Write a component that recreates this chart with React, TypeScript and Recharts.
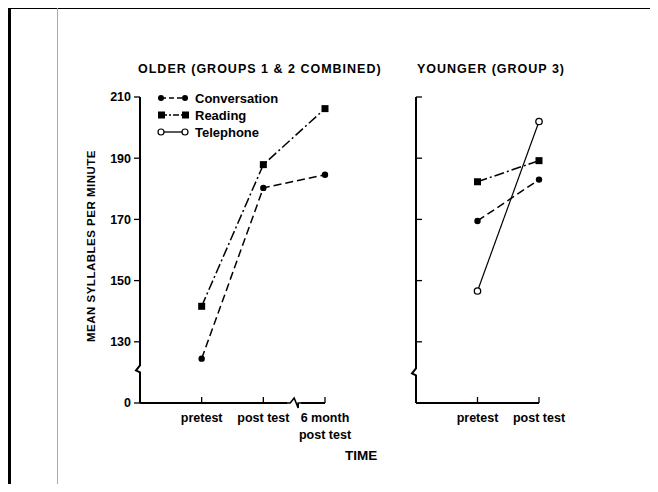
import { LineChart, Line, XAxis, YAxis, ReferenceDot } from "recharts"

// time points (numeric positions on the x axis) and their labels
const olderTimes = [1, 2, 3]
const olderLabels = ["pretest", "post test", "6 month\npost test"]
const youngerTimes = [1, 2]
const youngerLabels = ["pretest", "post test"]

// mean syllables per minute
const olderConversation = [124.5, 180.3, 184.6]
const olderReading = [141.6, 187.9, 206.2]
const youngerConversation = [169.5, 183.0]
const youngerReading = [182.3, 189.2]
const youngerTelephone = [146.6, 202.0]

// the bottom of the broken axis stands for 0
const yTicks = [110, 130, 150, 170, 190, 210]
const yTickLabels = ["0", "130", "150", "170", "190", "210"]

const FONT = "'Liberation Sans', Arial, sans-serif"
const W = 658
const H = 492

const olderData = olderTimes.map((t, i) => ({
  t,
  conversation: olderConversation[i],
  reading: olderReading[i],
}))
const youngerData = youngerTimes.map((t, i) => ({
  t,
  conversation: youngerConversation[i],
  reading: youngerReading[i],
  telephone: youngerTelephone[i],
}))

const CONV_DASH = "8 4"
const READ_DASH = "10 3 2 3"

function Dot(props: any) {
  const { cx, cy } = props
  if (cx == null || cy == null) return null
  return <circle cx={cx} cy={cy} r={3.2} fill="#000" />
}
function Square(props: any) {
  const { cx, cy } = props
  if (cx == null || cy == null) return null
  return <rect x={cx - 3.5} y={cy - 3.5} width={7} height={7} fill="#000" />
}
function Hollow(props: any) {
  const { cx, cy } = props
  if (cx == null || cy == null) return null
  return <circle cx={cx} cy={cy} r={3.2} fill="#fff" stroke="#000" strokeWidth={1.3} />
}

function makeXTick(labels: string[]) {
  return function XTick(props: any) {
    const { x, y, payload } = props
    const lines = labels[payload.value - 1].split("\n")
    return (
      <g>
        <line x1={x} y1={y} x2={x} y2={y - 6} stroke="#000" strokeWidth={1.3} />
        {lines.map((l, i) => (
          <text
            key={i}
            x={x}
            y={y + 19 + i * 17}
            textAnchor="middle"
            fontFamily={FONT}
            fontWeight="bold"
            fontSize={12.5}
            fill="#000"
          >
            {l}
          </text>
        ))}
      </g>
    )
  }
}

// zigzag break on a vertical axis
function YBreak(props: any) {
  const { cx, cy } = props
  if (cx == null || cy == null) return <g />
  return (
    <g>
      <rect x={cx - 3} y={cy - 7} width={6} height={14} fill="#fff" />
      <path
        d={`M${cx},${cy - 8} L${cx},${cy - 4} L${cx - 4},${cy + 1} L${cx},${cy + 3} L${cx},${cy + 8}`}
        fill="none"
        stroke="#000"
        strokeWidth={2}
      />
    </g>
  )
}

// zigzag break on a horizontal axis
function XBreak(props: any) {
  const { cx, cy } = props
  if (cx == null || cy == null) return <g />
  return (
    <g>
      <rect x={cx - 7} y={cy - 3} width={14} height={6} fill="#fff" />
      <path
        d={`M${cx - 8},${cy} L${cx - 4},${cy} L${cx},${cy - 5} L${cx + 4},${cy + 5} L${cx + 4},${cy} L${cx + 8},${cy}`}
        fill="none"
        stroke="#000"
        strokeWidth={1.6}
      />
    </g>
  )
}

function LegendRow({ y, kind, label }: { y: number; kind: string; label: string }) {
  const dash = kind === "conv" ? "5 3" : kind === "read" ? "6 2 2 2" : undefined
  return (
    <g>
      <line x1={161} y1={y} x2={185} y2={y} stroke="#000" strokeWidth={1.3} strokeDasharray={dash} />
      {kind === "conv" && (
        <>
          <circle cx={161} cy={y} r={3} fill="#000" />
          <circle cx={185} cy={y} r={3} fill="#000" />
        </>
      )}
      {kind === "read" && (
        <>
          <rect x={158} y={y - 3.5} width={7} height={7} fill="#000" />
          <rect x={182} y={y - 3.5} width={7} height={7} fill="#000" />
        </>
      )}
      {kind === "tel" && (
        <>
          <circle cx={161} cy={y} r={3} fill="#fff" stroke="#000" strokeWidth={1.2} />
          <circle cx={185} cy={y} r={3} fill="#fff" stroke="#000" strokeWidth={1.2} />
        </>
      )}
      <text x={195} y={y + 4.5} fontFamily={FONT} fontWeight="bold" fontSize={13} fill="#000">
        {label}
      </text>
    </g>
  )
}

const yTickFmt = (v: number) => yTickLabels[yTicks.indexOf(v)] ?? ""

export default function App() {
  const abs: React.CSSProperties = { position: "absolute", left: 0, top: 0 }
  const titleStyle: React.CSSProperties = {
    position: "absolute",
    top: 62,
    fontFamily: FONT,
    fontWeight: "bold",
    fontSize: 12.5,
    letterSpacing: 1,
    whiteSpace: "nowrap",
  }
  return (
    <div style={{ position: "relative", width: W, height: H, margin: -8, background: "#fff", overflow: "hidden" }}>
      {/* page frame */}
      <div style={{ position: "absolute", left: 8, top: 6, width: 3, height: H, background: "#000" }} />
      <div style={{ position: "absolute", left: 8, top: 6, width: W, height: 3, background: "#000" }} />
      <div style={{ position: "absolute", left: 57, top: 0, width: 1, height: H, background: "#aaa" }} />

      <div style={{ ...abs }}>
        <LineChart width={W} height={H} data={olderData} margin={{ top: 97, right: 333, left: 100, bottom: 59 }}>
          <XAxis
            type="number"
            dataKey="t"
            domain={[0, 3]}
            ticks={olderTimes}
            height={30}
            tickSize={0}
            tickMargin={0}
            tickLine={false}
            axisLine={{ stroke: "#000", strokeWidth: 2 }}
            tick={makeXTick(olderLabels)}
            interval={0}
          />
          <YAxis
            type="number"
            domain={[110, 210]}
            ticks={yTicks}
            width={40}
            tickSize={6}
            tickMargin={3}
            tickFormatter={yTickFmt}
            axisLine={{ stroke: "#000", strokeWidth: 2 }}
            tickLine={{ stroke: "#000", strokeWidth: 1.3 }}
            tick={{ fill: "#000", fontFamily: FONT, fontWeight: "bold", fontSize: 12.5 }}
            interval={0}
          />
          <Line
            dataKey="conversation"
            stroke="#000"
            strokeWidth={1.5}
            strokeDasharray={CONV_DASH}
            dot={<Dot />}
            activeDot={false}
            isAnimationActive={false}
          />
          <Line
            dataKey="reading"
            stroke="#000"
            strokeWidth={1.5}
            strokeDasharray={READ_DASH}
            dot={<Square />}
            activeDot={false}
            isAnimationActive={false}
          />
          <ReferenceDot x={0} y={121} ifOverflow="visible" shape={<YBreak />} />
          <ReferenceDot x={2.5} y={110} ifOverflow="visible" shape={<XBreak />} />
          <g>
            <LegendRow y={98} kind="conv" label="Conversation" />
            <LegendRow y={115} kind="read" label="Reading" />
            <LegendRow y={132} kind="tel" label="Telephone" />
          </g>
        </LineChart>
      </div>

      <div style={{ ...abs }}>
        <LineChart width={W} height={H} data={youngerData} margin={{ top: 97, right: 119, left: 416, bottom: 59 }}>
          <XAxis
            type="number"
            dataKey="t"
            domain={[0, 2]}
            ticks={youngerTimes}
            height={30}
            tickSize={0}
            tickMargin={0}
            tickLine={false}
            axisLine={{ stroke: "#000", strokeWidth: 2 }}
            tick={makeXTick(youngerLabels)}
            interval={0}
          />
          <YAxis
            type="number"
            domain={[110, 210]}
            ticks={yTicks.slice(1)}
            width={40}
            mirror
            tickSize={6}
            tickFormatter={() => ""}
            axisLine={{ stroke: "#000", strokeWidth: 2 }}
            tickLine={{ stroke: "#000", strokeWidth: 1.3 }}
            interval={0}
          />
          <Line
            dataKey="conversation"
            stroke="#000"
            strokeWidth={1.5}
            strokeDasharray={CONV_DASH}
            dot={<Dot />}
            activeDot={false}
            isAnimationActive={false}
          />
          <Line
            dataKey="reading"
            stroke="#000"
            strokeWidth={1.5}
            strokeDasharray={READ_DASH}
            dot={<Square />}
            activeDot={false}
            isAnimationActive={false}
          />
          <Line
            dataKey="telephone"
            stroke="#000"
            strokeWidth={1.2}
            dot={<Hollow />}
            activeDot={false}
            isAnimationActive={false}
          />
          <ReferenceDot x={0} y={120} ifOverflow="visible" shape={<YBreak />} />
        </LineChart>
      </div>

      {/* titles and axis names */}
      <div style={{ ...titleStyle, left: 138 }}>OLDER (GROUPS 1 &amp; 2 COMBINED)</div>
      <div style={{ ...titleStyle, left: 417 }}>YOUNGER (GROUP 3)</div>
      <div
        style={{
          position: "absolute",
          left: 91,
          top: 246,
          transform: "translate(-50%, -50%) rotate(-90deg)",
          fontFamily: FONT,
          fontWeight: "bold",
          fontSize: 11.5,
          letterSpacing: 0.5,
          whiteSpace: "nowrap",
        }}
      >
        MEAN SYLLABLES PER MINUTE
      </div>
      <div style={{ position: "absolute", left: 345, top: 448, fontFamily: FONT, fontWeight: "bold", fontSize: 13.5, whiteSpace: "nowrap" }}>
        TIME
      </div>
    </div>
  )
}
